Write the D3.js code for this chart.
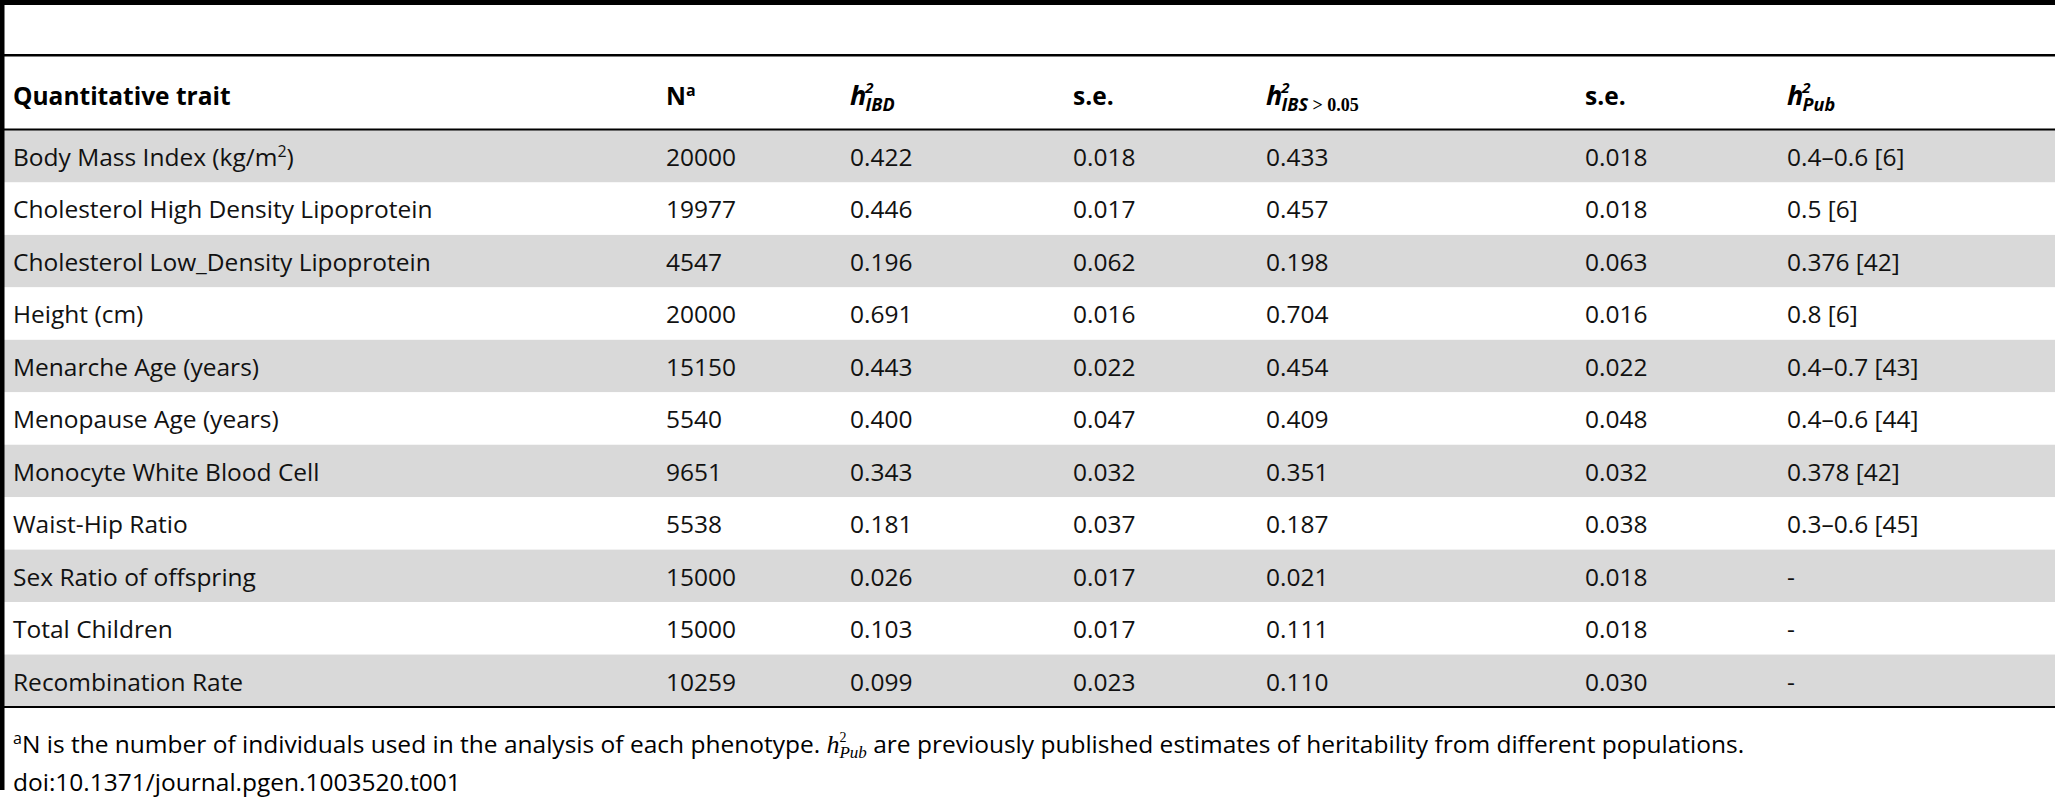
<!DOCTYPE html>
<html>
<head>
<meta charset="utf-8">
<script src="https://cdn.jsdelivr.net/npm/d3@7"></script>
<style>
  body { margin: 0; background: #fff; }
  text { font-family: "Open Sans", sans-serif; }
</style>
</head>
<body>
<svg id="chart" width="2055" height="800"></svg>
<script>
const traits = ["Body Mass Index (kg/m²)", "Cholesterol High Density Lipoprotein", "Cholesterol Low_Density Lipoprotein",
  "Height (cm)", "Menarche Age (years)", "Menopause Age (years)", "Monocyte White Blood Cell",
  "Waist-Hip Ratio", "Sex Ratio of offspring", "Total Children", "Recombination Rate"];
const nValues = ["20000", "19977", "4547", "20000", "15150", "5540", "9651", "5538", "15000", "15000", "10259"];
const hIBD = ["0.422", "0.446", "0.196", "0.691", "0.443", "0.400", "0.343", "0.181", "0.026", "0.103", "0.099"];
const seIBD = ["0.018", "0.017", "0.062", "0.016", "0.022", "0.047", "0.032", "0.037", "0.017", "0.017", "0.023"];
const hIBS = ["0.433", "0.457", "0.198", "0.704", "0.454", "0.409", "0.351", "0.187", "0.021", "0.111", "0.110"];
const seIBS = ["0.018", "0.018", "0.063", "0.016", "0.022", "0.048", "0.032", "0.038", "0.018", "0.018", "0.030"];
const hPub = ["0.4–0.6 [6]", "0.5 [6]", "0.376 [42]", "0.8 [6]", "0.4–0.7 [43]", "0.4–0.6 [44]", "0.378 [42]",
  "0.3–0.6 [45]", "-", "-", "-"];

const W = 2055;
const svg = d3.select("#chart");
const fs = 24.5;
const serif = "'Liberation Serif', serif";

const colX = [13, 666, 850, 1073, 1266, 1585, 1787];
const columns = [traits, nValues, hIBD, seIBD, hIBS, seIBS, hPub];

const y = d3.scaleBand().domain(d3.range(traits.length)).range([130, 707]);

// striped rows
svg.selectAll("rect.row")
  .data(d3.range(traits.length))
  .join("rect")
  .attr("x", 4).attr("y", d => y(d))
  .attr("width", W - 4).attr("height", y.bandwidth())
  .attr("fill", d => d % 2 === 0 ? "#d9d9d9" : "#fff");

// rules
svg.append("rect").attr("x", 0).attr("y", 0).attr("width", W).attr("height", 5).attr("fill", "#000");
svg.append("rect").attr("x", 0).attr("y", 54).attr("width", W).attr("height", 2.5).attr("fill", "#000");
svg.append("rect").attr("x", 0).attr("y", 128.5).attr("width", W).attr("height", 2).attr("fill", "#000");
svg.append("rect").attr("x", 0).attr("y", 706).attr("width", W).attr("height", 2).attr("fill", "#000");
svg.append("rect").attr("x", 0).attr("y", 0).attr("width", 4.5).attr("height", 790).attr("fill", "#000");

// header
const hy = 105;
const head = svg.append("g").attr("font-size", fs).attr("font-weight", "bold");
head.append("text").attr("x", colX[0]).attr("y", hy).text("Quantitative trait");
const nh = head.append("text").attr("x", colX[1]).attr("y", hy).text("N");
nh.append("tspan").attr("font-size", 16).attr("dy", -9).text("a");
head.append("text").attr("x", colX[3]).attr("y", hy).text("s.e.");
head.append("text").attr("x", colX[5]).attr("y", hy).text("s.e.");

function hsym(x, sub, extra) {
  const t = svg.append("text").attr("x", x).attr("y", hy)
    .attr("font-family", serif).attr("font-style", "italic")
    .attr("font-weight", "bold").attr("font-size", 27).text("h");
  t.append("tspan").attr("font-size", 15).attr("dx", -1).attr("dy", -12).text("2");
  t.append("tspan").attr("font-size", 18).attr("dx", -8).attr("dy", 18).text(sub);
  if (extra) t.append("tspan").attr("font-size", 18).attr("font-style", "normal").attr("font-family", serif).text(extra);
}
hsym(colX[2], "IBD");
hsym(colX[4], "IBS", " > 0.05");
hsym(colX[6], "Pub");

// body cells
columns.forEach((col, ci) => {
  svg.append("g").attr("font-size", fs)
    .selectAll("text")
    .data(col)
    .join("text")
    .attr("x", colX[ci])
    .attr("y", (d, i) => y(i) + 36)
    .attr("fill", "#111")
    .each(function (d) {
      const t = d3.select(this);
      if (d.includes("m²")) {
        t.text("Body Mass Index (kg/m");
        t.append("tspan").attr("font-size", 16).attr("dy", -9).text("2");
        t.append("tspan").attr("dy", 9).text(")");
      } else t.text(d);
    });
});

// footnote
const fn = svg.append("text").attr("x", 13).attr("y", 753).attr("font-size", fs);
fn.append("tspan").attr("font-size", 16).attr("dy", -9).text("a");
fn.append("tspan").attr("dy", 9).text("N is the number of individuals used in the analysis of each phenotype. ");
fn.append("tspan").attr("font-family", serif).attr("font-style", "italic").attr("font-size", 26).text("h");
fn.append("tspan").attr("font-family", serif).attr("font-size", 14).attr("dy", -11).text("2");
fn.append("tspan").attr("font-family", serif).attr("font-style", "italic").attr("font-size", 17).attr("dx", -7).attr("dy", 16).text("Pub");
fn.append("tspan").attr("dy", -5).text(" are previously published estimates of heritability from different populations.");
svg.append("text").attr("x", 13).attr("y", 791).attr("font-size", fs).text("doi:10.1371/journal.pgen.1003520.t001");
</script>
</body>
</html>
